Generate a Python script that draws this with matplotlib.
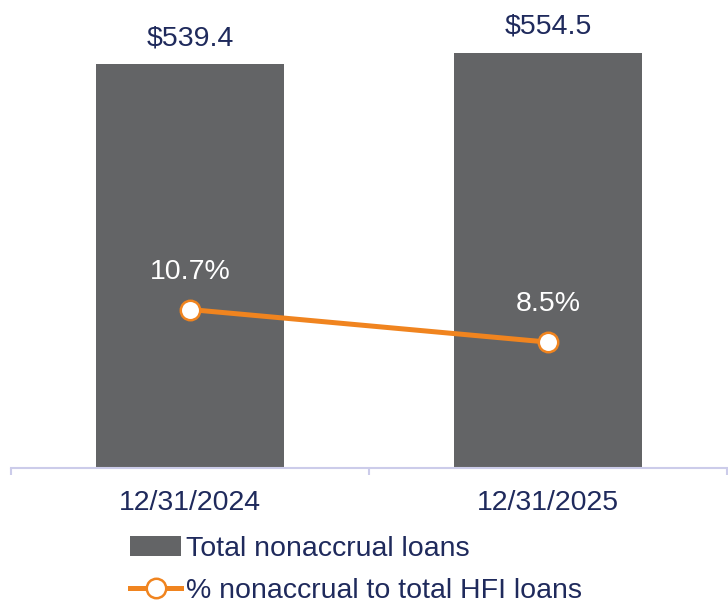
import matplotlib.pyplot as plt

plt.rcParams['font.family'] = ['Liberation Sans', 'DejaVu Sans']

dates = ['12/31/2024', '12/31/2025']
nonaccrual = [539.4, 554.5]
pct_nonaccrual = [10.7, 8.5]

navy = '#1f2a5c'
bar_color = '#636466'
orange = '#f0841f'
axis_color = '#ccccea'

fig = plt.figure(figsize=(7.28, 6.03), dpi=100)
ax = fig.add_axes([11 / 728, 1 - 468 / 603, 716 / 728, 468 / 603])

x = list(range(len(dates)))
bars = ax.bar(x, nonaccrual, width=0.527, color=bar_color, label='Total nonaccrual loans', zorder=2)
ax.set_xlim(-0.5, 1.5)
ax.set_ylim(0, 625)

for xi, v in zip(x, nonaccrual):
    ax.annotate(f'${v:,.1f}', (xi, v), xytext=(0, 26), textcoords='offset pixels',
                ha='center', va='center', fontsize=20.5, color=navy)

# x axis: boundary ticks, labels in between
ax.set_xticks([-0.5, 0.5, 1.5])
ax.set_xticklabels([])
ax.set_xticks(x, minor=True)
ax.set_xticklabels(dates, minor=True)
ax.tick_params(axis='x', which='major', length=5, width=1.5, color=axis_color)
ax.tick_params(axis='x', which='minor', length=0, pad=16, labelsize=20.5, labelcolor=navy)
ax.set_yticks([])
for s in ['top', 'left', 'right']:
    ax.spines[s].set_visible(False)
ax.spines['bottom'].set_color(axis_color)
ax.spines['bottom'].set_linewidth(1.5)

ax2 = ax.twinx()
line, = ax2.plot(x, pct_nonaccrual, color=orange, lw=3.6, marker='o', markersize=14,
                 markerfacecolor='white', markeredgecolor=orange, markeredgewidth=1.8,
                 label='% nonaccrual to total HFI loans', zorder=3)
ax2.set_ylim(0, 31.6)
ax2.set_yticks([])
for s in ax2.spines.values():
    s.set_visible(False)

for xi, v in zip(x, pct_nonaccrual):
    ax2.annotate(f'{v}%', (xi, v), xytext=(0, 38), textcoords='offset pixels',
                 ha='center', va='center', fontsize=20.5, color='white')

fig.legend([bars, line], ['Total nonaccrual loans', '% nonaccrual to total HFI loans'],
           loc='upper left', bbox_to_anchor=(130 / 728, 1 - 536 / 603), frameon=False,
           fontsize=20.5, labelcolor=navy, handlelength=1.8, handletextpad=0.15,
           labelspacing=0.56, borderpad=0, borderaxespad=0)

fig.savefig('out.png', dpi=100)
